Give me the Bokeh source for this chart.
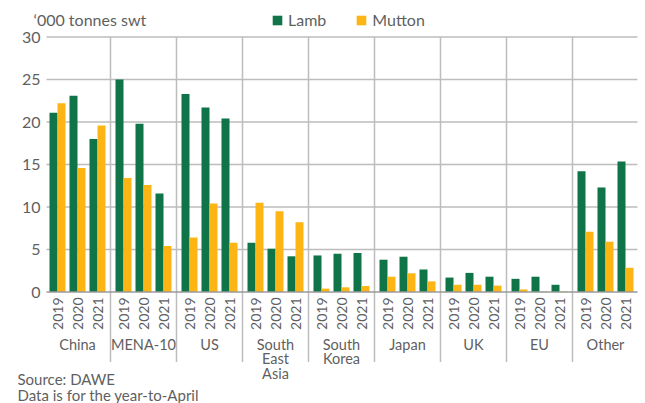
import math
from bokeh.plotting import figure
from bokeh.models import ColumnDataSource, Range1d, Legend, LegendItem
from bokeh.core.properties import value
from bokeh.embed import file_html
from bokeh.resources import INLINE

# ---- data ('000 tonnes swt, year-to-April) ----
countries = ["China", "MENA-10", "US", "South\nEast\nAsia", "South\nKorea",
             "Japan", "UK", "EU", "Other"]
years = ["2019", "2020", "2021"]

lamb = [21.1, 23.1, 18.0,    # China
        25.0, 19.8, 11.6,    # MENA-10
        23.3, 21.7, 20.4,    # US
        5.8, 5.1, 4.2,       # South East Asia
        4.3, 4.5, 4.6,       # South Korea
        3.8, 4.15, 2.65,     # Japan
        1.7, 2.25, 1.8,      # UK
        1.55, 1.8, 0.85,     # EU
        14.2, 12.3, 15.35]   # Other
mutton = [22.2, 14.6, 19.6,
          13.4, 12.6, 5.4,
          6.4, 10.4, 5.8,
          10.5, 9.5, 8.2,
          0.4, 0.55, 0.7,
          1.8, 2.2, 1.25,
          0.85, 0.85, 0.75,
          0.3, 0.05, 0.05,
          7.1, 5.9, 2.85]
y_ticks = [0, 5, 10, 15, 20, 25, 30]
y_tick_labels = ["0", "5", "10", "15", "20", "25", "30"]
y_label = "\u2018000 tonnes swt"
notes = ["Source: DAWE", "Data is for the year-to-April"]

# ---- style / layout ----
GREEN = "#0f7549"
YELLOW = "#fdb515"
GRID = "#bdbdbd"
ZERO = "#9a9a9a"
TXT = "#5f5f5f"
FONT = "Lato"
W, H = 645, 403
GAP = 0.3            # gap between country groups (in year-slot units)
UX = 20.0            # px per year slot
FIRST_SLOT_PX = 47.0 # page x of first slot's left edge
TOP_PX, ZERO_PX = 36.5, 291.5
UY = (ZERO_PX - TOP_PX) / 30.0

n_years = len(years)
group_w = n_years + GAP
slot_center = [g * group_w + j + 0.5 for g in range(len(countries)) for j in range(n_years)]
group_center = [g * group_w + n_years / 2 for g in range(len(countries))]
separators = [g * group_w + n_years + GAP / 2 for g in range(len(countries) - 1)]
x_lo = -0.05
x_hi = (len(countries) - 1) * group_w + n_years + 0.1

x_start = -FIRST_SLOT_PX / UX
y_end = 30 + TOP_PX / UY
y_start = -(H - ZERO_PX) / UY
sep_bottom = -(361.5 - ZERO_PX) / UY

p = figure(width=W, height=H, x_range=Range1d(x_start, x_start + W / UX),
           y_range=Range1d(y_start, y_end), output_backend="svg",
           toolbar_location=None, x_axis_location=None, y_axis_location=None,
           min_border=0)
p.outline_line_color = None
p.grid.visible = False
p.background_fill_color = "white"
p.border_fill_color = "white"

src = ColumnDataSource(dict(
    xl=[c - 0.2 for c in slot_center], xm=[c + 0.2 for c in slot_center], xc=slot_center,
    lamb=lamb, mutton=mutton, year=years * len(countries)))

# horizontal gridlines
p.segment(x0=x_lo, x1=x_hi, y0=y_ticks[1:], y1=y_ticks[1:], line_color=GRID, line_width=1.5)
# group separators
p.segment(x0=separators, x1=separators, y0=30, y1=sep_bottom, line_color=GRID, line_width=1.5)

r_l = p.vbar(x="xl", top="lamb", width=0.4, source=src, fill_color=GREEN, line_color=None)
r_m = p.vbar(x="xm", top="mutton", width=0.4, source=src, fill_color=YELLOW, line_color=None)

# zero line
p.segment(x0=x_lo, x1=x_hi, y0=0, y1=0, line_color=ZERO, line_width=1.5)

# y tick labels
p.text(x=x_start, y=y_ticks, text=y_tick_labels, x_offset=40, text_align="right",
       text_baseline="middle", text_font=value(FONT), text_font_size="16px", text_color=TXT)
# y label
p.text(x=x_start, y=30, text=[y_label], x_offset=33, y_offset=-17.5,
       text_align="left", text_baseline="middle", text_font=value(FONT),
       text_font_size="16px", text_color=TXT)
# year labels
p.text(x="xc", y=0, text="year", source=src, angle=math.pi / 2, text_align="right",
       text_baseline="middle", y_offset=5.5, text_font=value(FONT),
       text_font_size="14px", text_color=TXT)
# country labels
p.text(x=group_center, y=0, text=countries, text_align="center", text_baseline="top",
       y_offset=44, text_font=value(FONT), text_font_size="14.5px", text_color=TXT,
       text_line_height=0.85)
# notes
p.text(x=x_start, y=0, text=notes, x_offset=17, y_offset=[86.5, 103],
       text_align="left", text_baseline="middle", text_font=value(FONT),
       text_font_size="15px", text_color=TXT)

legend = Legend(items=[LegendItem(label="Lamb", renderers=[r_l]),
                       LegendItem(label="Mutton", renderers=[r_m])],
                orientation="horizontal", location=(271, H - 29),
                glyph_width=12, glyph_height=12, label_height=12, label_standoff=5,
                spacing=29, padding=0, margin=0, border_line_color=None,
                background_fill_alpha=0, label_text_font=FONT,
                label_text_font_size="16px", label_text_color=TXT,
                label_text_baseline="middle")
p.add_layout(legend, "center")

open("out.html", "w").write(file_html(p, INLINE))
